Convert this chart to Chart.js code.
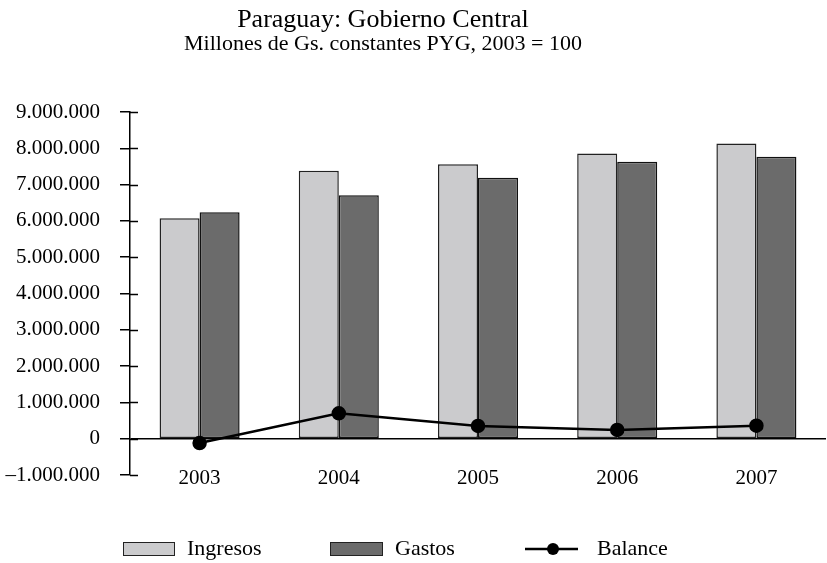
<!DOCTYPE html>
<html>
<head>
<meta charset="utf-8">
<script src="https://cdn.jsdelivr.net/npm/chart.js@4.4.0/dist/chart.umd.min.js"></script>
<style>
  html, body { margin: 0; padding: 0; background: #fff; }
  #wrap { position: relative; width: 827px; height: 563px; font-family: 'Liberation Serif', serif; color: #000; }
  #c { position: absolute; left: 0; top: 0; }
  .title { position: absolute; left: 0; width: 766px; text-align: center; white-space: nowrap; }
  .leg { position: absolute; top: 535px; font-size: 22px; line-height: 26px; }
  .box { position: absolute; top: 542px; height: 12px; border: 1px solid #222; }
</style>
</head>
<body>
<div id="wrap">
  <canvas id="c" width="827" height="563"></canvas>
  <div class="title" style="top:4px; font-size:26px;">Paraguay: Gobierno Central</div>
  <div class="title" style="top:30px; font-size:22px;">Millones de Gs. constantes PYG, 2003 = 100</div>

  <div class="box" style="left:123px; width:50px; background:#cbcbcd;"></div>
  <div class="leg" style="left:187px;">Ingresos</div>
  <div class="box" style="left:330px; width:51px; background:#6b6b6b;"></div>
  <div class="leg" style="left:395px;">Gastos</div>
  <svg style="position:absolute; left:520px; top:538px;" width="64" height="22">
    <line x1="5" y1="11" x2="58" y2="11" stroke="#000" stroke-width="2.5"/>
    <circle cx="33" cy="11" r="6" fill="#000"/>
  </svg>
  <div class="leg" style="left:597px;">Balance</div>
</div>
<script>
  // años y series
  const years    = ['2003', '2004', '2005', '2006', '2007'];
  const ingresos = [6070000, 7380000, 7560000, 7860000, 8130000];
  const gastos   = [6240000, 6710000, 7190000, 7630000, 7770000];
  const balance  = [-120000, 700000, 350000, 240000, 360000];

  const Y_MIN = -1000000, Y_MAX = 9000000, Y_STEP = 1000000;
  const FONT = 'Liberation Serif';

  function fmt(v) {
    const s = Math.abs(v).toString().replace(/\B(?=(\d{3})+(?!\d))/g, '.');
    return v < 0 ? '\u2013' + s : s;
  }

  // marcas del eje Y que cruzan hacia dentro + etiquetas de años
  // (las etiquetas del eje X quedan a la altura del -1.000.000, por eso se dibujan aquí)
  const axisExtras = {
    id: 'axisExtras',
    afterDraw(chart) {
      const y = chart.scales.y;
      const x = chart.scales.x;
      const ctx = chart.ctx;
      ctx.save();
      ctx.strokeStyle = '#000';
      ctx.lineWidth = 1.5;
      y.ticks.forEach(t => {
        const py = Math.round(y.getPixelForValue(t.value)) + 0.5;
        ctx.beginPath();
        ctx.moveTo(y.right, py);
        ctx.lineTo(y.right + 8, py);
        ctx.stroke();
      });
      ctx.fillStyle = '#000';
      ctx.font = '21px "' + FONT + '"';
      ctx.textAlign = 'center';
      ctx.textBaseline = 'middle';
      x.ticks.forEach((t, i) => {
        ctx.fillText(x.getLabelForValue(t.value), x.getPixelForTick(i), y.bottom + 3);
      });
      ctx.restore();
    }
  };

  new Chart(document.getElementById('c'), {
    type: 'bar',
    data: {
      labels: years,
      datasets: [
        {
          type: 'line',
          label: 'Balance',
          data: balance,
          borderColor: '#000',
          borderWidth: 2.5,
          pointRadius: 6,
          pointBackgroundColor: '#000',
          pointBorderColor: '#000',
          tension: 0,
          order: 0,
        },
        {
          label: 'Ingresos',
          data: ingresos,
          backgroundColor: '#cbcbcd',
          borderColor: '#222',
          borderWidth: 1.5,
          borderSkipped: false,
          order: 1,
        },
        {
          label: 'Gastos',
          data: gastos,
          backgroundColor: '#6b6b6b',
          borderColor: '#111',
          borderWidth: 1.5,
          borderSkipped: false,
          order: 1,
        },
      ],
    },
    options: {
      responsive: false,
      animation: false,
      devicePixelRatio: 1,
      layout: { autoPadding: false, padding: { top: 112, right: 1, left: 0, bottom: 0 } },
      datasets: { bar: { categoryPercentage: 0.575, barPercentage: 1.0 } },
      plugins: {
        legend: { display: false },
        tooltip: { enabled: false },
      },
      scales: {
        x: {
          offset: true,
          grid: { display: false, drawTicks: false },
          border: { display: false },
          ticks: { display: false },
          afterFit(s) { s.height = 88; },
        },
        y: {
          min: Y_MIN,
          max: Y_MAX,
          ticks: {
            stepSize: Y_STEP,
            color: '#000',
            padding: 20,
            font: { family: FONT, size: 21 },
            callback: v => fmt(v),
          },
          grid: {
            color: ctx => (ctx.tick && ctx.tick.value === 0) ? '#000' : 'rgba(0,0,0,0)',
            tickColor: '#000',
            tickLength: 10,
            lineWidth: 1.5,
          },
          border: { display: true, color: '#000', width: 1.5 },
          afterFit(s) { s.width = 130; },
        },
      },
    },
    plugins: [axisExtras],
  });
</script>
</body>
</html>
